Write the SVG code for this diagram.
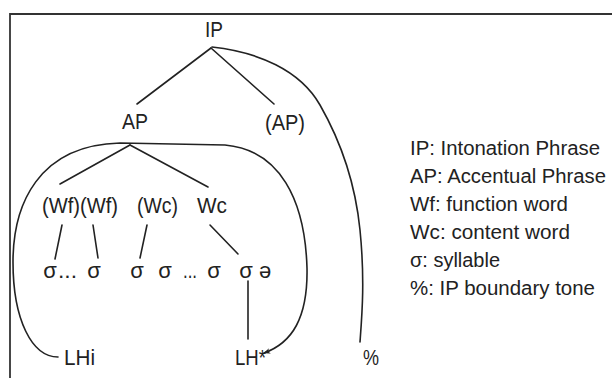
<svg xmlns="http://www.w3.org/2000/svg" width="612" height="378" viewBox="0 0 612 378">
<style>
text{font-family:"Liberation Sans",Arial,sans-serif;font-size:22px;fill:#222}
.c{text-anchor:middle}
.lg{font-size:19.5px}
.ln{stroke:#222;stroke-width:1.6;fill:none;stroke-linecap:round}
.fr{stroke:#333;stroke-width:1.8;fill:none}
</style>
<defs>
<marker id="ah" viewBox="0 0 10 10" refX="9" refY="5" markerWidth="7" markerHeight="7" orient="auto" markerUnits="userSpaceOnUse">
<path d="M0,1 L10,5 L0,9 L3,5 Z" fill="#222"/>
</marker>
</defs>
<rect width="612" height="378" fill="#fff"/>
<g id="frame">
<path class="fr" d="M10,378 L10,14 L612,14"/>
</g>
<g id="connectors">
<line class="ln" x1="211" y1="48" x2="137" y2="104"/>
<line class="ln" x1="211" y1="48" x2="274" y2="104"/>
<line class="ln" x1="130" y1="145" x2="60" y2="184"/>
<line class="ln" x1="130" y1="145" x2="208" y2="187"/>
<line class="ln" x1="62" y1="225" x2="55" y2="259"/>
<line class="ln" x1="93" y1="225" x2="98" y2="258"/>
<line class="ln" x1="147" y1="225" x2="140" y2="258"/>
<line class="ln" x1="210" y1="225" x2="238" y2="254"/>
<line class="ln" x1="248" y1="281" x2="248" y2="339"/>
<path class="ln" d="M212,47 C258,52 300,70 320,105 C340,140 355,180 360,230 C365,280 362,315 360,342"/>
<path class="ln" marker-end="url(#ah)" d="M58,357 C32,357 13,320 13,262 C13,205 38,145 120,143 L225,145 C280,150 305,200 307,268 C308,318 292,343 264,353"/>
</g>
<g id="IP"><text x="205" y="37" textLength="18" lengthAdjust="spacingAndGlyphs">IP</text></g>
<g id="AP"><text x="122" y="129" textLength="26" lengthAdjust="spacingAndGlyphs">AP</text></g>
<g id="AP2"><text x="265" y="130" textLength="40" lengthAdjust="spacingAndGlyphs">(AP)</text></g>
<g id="Wf"><text x="42" y="213" textLength="76" lengthAdjust="spacingAndGlyphs">(Wf)(Wf)</text></g>
<g id="Wc1"><text x="137" y="213" textLength="41" lengthAdjust="spacingAndGlyphs">(Wc)</text></g>
<g id="Wc2"><text x="197" y="213" textLength="30" lengthAdjust="spacingAndGlyphs">Wc</text></g>
<g id="syllables">
<text class="c" x="50" y="278">σ</text>
<text x="58" y="278" textLength="19" lengthAdjust="spacingAndGlyphs">...</text>
<text class="c" x="94" y="278">σ</text>
<text class="c" x="137" y="278">σ</text>
<text class="c" x="165" y="278">σ</text>
<text x="183" y="278" textLength="14" lengthAdjust="spacingAndGlyphs">...</text>
<text class="c" x="214" y="278">σ</text>
<text class="c" x="246" y="278">σ</text>
<text class="c" x="265" y="278">ə</text>
</g>
<g id="LHi"><text x="64" y="365" textLength="31" lengthAdjust="spacingAndGlyphs">LHi</text></g>
<g id="LHstar"><text x="235" y="365" textLength="31" lengthAdjust="spacingAndGlyphs">LH*</text></g>
<g id="pct"><text x="363" y="365" textLength="16" lengthAdjust="spacingAndGlyphs">%</text></g>
<g id="legend">
<text class="lg" x="410" y="155" textLength="190" lengthAdjust="spacingAndGlyphs">IP: Intonation Phrase</text>
<text class="lg" x="410" y="183" textLength="196" lengthAdjust="spacingAndGlyphs">AP: Accentual Phrase</text>
<text class="lg" x="410" y="211" textLength="158" lengthAdjust="spacingAndGlyphs">Wf: function word</text>
<text class="lg" x="410" y="239" textLength="160" lengthAdjust="spacingAndGlyphs">Wc: content word</text>
<text class="lg" x="410" y="267" textLength="90" lengthAdjust="spacingAndGlyphs">σ: syllable</text>
<text class="lg" x="410" y="295" textLength="185" lengthAdjust="spacingAndGlyphs">%: IP boundary tone</text>
</g>
</svg>
